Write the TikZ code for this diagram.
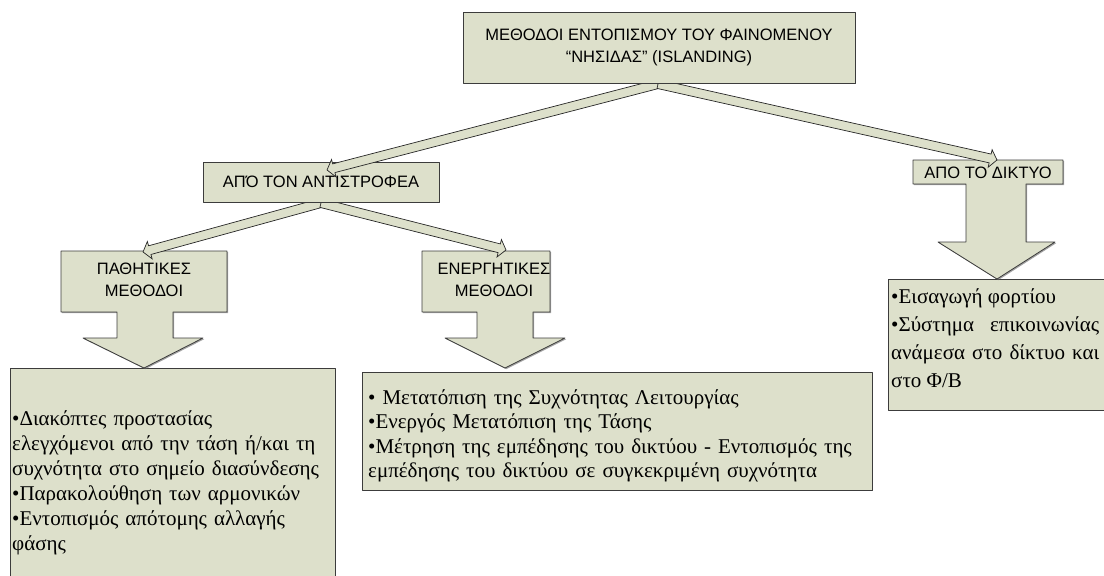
\documentclass[tikz,border=0pt]{standalone}
\usepackage{fontspec}
\setmainfont{Liberation Serif}
\newfontfamily\arialgr{Liberation Sans}
\usetikzlibrary{calc,shadows}
\definecolor{boxfill}{RGB}{221,224,203}
\definecolor{boxline}{RGB}{60,60,60}
\tikzset{
  shapebox/.style={fill=boxfill, draw=boxline, line width=0.8pt,
    drop shadow={shadow xshift=1.2pt, shadow yshift=-1.2pt, fill=black!60, opacity=0.6}},
  band/.style={fill=boxfill, draw=black!85, line width=0.7pt, line join=miter},
  caps/.style={font=\arialgr\fontsize{16.5}{21.5}\selectfont, align=center, inner sep=0pt},
  items/.style={anchor=base west, inner sep=0pt, align=left, text width=520pt,
    execute at begin node=\setlength{\parindent}{0pt}},
}
\newcommand{\bandarrow}[2]{%
  \path let \p1=(#1), \p2=(#2) in
    \pgfextra{%
      \pgfmathsetmacro{\bandlen}{veclen(\x2-\x1,\y2-\y1)}%
      \pgfmathsetmacro{\bandang}{atan2(\y2-\y1,\x2-\x1)}%
      \global\let\bandlen\bandlen \global\let\bandang\bandang};
  \draw[band, shift={(#1)}, rotate=\bandang]
    (0pt,-4.5pt) -- (\bandlen pt-7pt,-4.5pt) -- (\bandlen pt-7pt,-9pt) -- (\bandlen pt,0pt)
    -- (\bandlen pt-7pt,9pt) -- (\bandlen pt-7pt,4.5pt) -- (0pt,4.5pt) -- cycle;
}
\begin{document}
\begin{tikzpicture}[x=1pt, y=-1pt, line join=round]
		\useasboundingbox (0,0) rectangle (1104,576);
		\clip (0,0) rectangle (1104,576);
		\coordinate (invin) at (327,170);
		\coordinate (gridin) at (997,160);
		\coordinate (pasin) at (143,252);
		\coordinate (actin) at (506,250);
		\draw[shapebox] (10,368) rectangle (335,600);
		\draw[shapebox] (362,372) rectangle (872,490);
		\draw[shapebox] (888,279) rectangle (1120,410);
		\node[items, font=\fontsize{21}{25}\selectfont] (pastext) at (12,425)
			{•Διακόπτες προστασίας\\ελεγχόμενοι από την τάση ή/και τη\\συχνότητα στο σημείο διασύνδεσης\\•Παρακολούθηση των αρμονικών\\•Εντοπισμός απότομης αλλαγής\\φάσης};
		\node[items, font=\fontsize{21}{24.5}\selectfont] (acttext) at (368,404)
			{• Μετατόπιση της Συχνότητας Λειτουργίας\\•Ενεργός Μετατόπιση της Τάσης\\•Μέτρηση της εμπέδησης του δικτύου - Εντοπισμός της\\εμπέδησης του δικτύου σε συγκεκριμένη συχνότητα};
		\node[items, text width=208pt, align=justify, font=\fontsize{21}{28}\selectfont] (gridtext) at (891,303)
			{•Εισαγωγή φορτίου\par •Σύστημα επικοινωνίας\linebreak ανάμεσα στο δίκτυο και\linebreak στο Φ/Β};
		\draw[shapebox] (61,251) -- (227,251) -- (227,312) -- (173,312) -- (173,338) -- (203,338) -- (144,368)
			-- (83,338) -- (117,338) -- (117,312) -- (61,312) -- cycle;
		\draw[shapebox] (422,251) -- (550,251) -- (550,312) -- (533,312) -- (533,338) -- (565,338) -- (505,368)
			-- (445,338) -- (477,338) -- (477,312) -- (422,312) -- cycle;
		\draw[shapebox] (913,160) -- (1063,160) -- (1063,184) -- (1026,184) -- (1026,242) -- (1055,242) -- (997,279)
			-- (938,242) -- (966,242) -- (966,184) -- (913,184) -- cycle;
		\node[caps] (pas) at (144,280) {ΠΑΘΗΤΙΚΕΣ\\ΜΕΘΟΔΟΙ};
		\node[caps] (act) at (494,280) {ΕΝΕΡΓΗΤΙΚΕΣ\\ΜΕΘΟΔΟΙ};
		\node[caps] (grid) at (988,173) {ΑΠΟ ΤΟ ΔΙΚΤΥΟ};
		\bandarrow{321,203}{pasin}
		\bandarrow{321,203}{actin}
		\node[shapebox, caps, minimum width=236pt, minimum height=40pt] (inv) at (321,182) {ΑΠΌ ΤΟΝ ΑΝΤΙΣΤΡΟΦΕΑ};
		\bandarrow{658,84}{invin}
		\bandarrow{658,84}{gridin}
		\node[shapebox, caps, minimum width=392pt, minimum height=71pt] (top) at (659,47.5)
			{ΜΕΘΟΔΟΙ ΕΝΤΟΠΙΣΜΟΥ ΤΟΥ ΦΑΙΝΟΜΕΝΟΥ\\“ΝΗΣΙΔΑΣ” (ISLANDING)};
\end{tikzpicture}
\end{document}
